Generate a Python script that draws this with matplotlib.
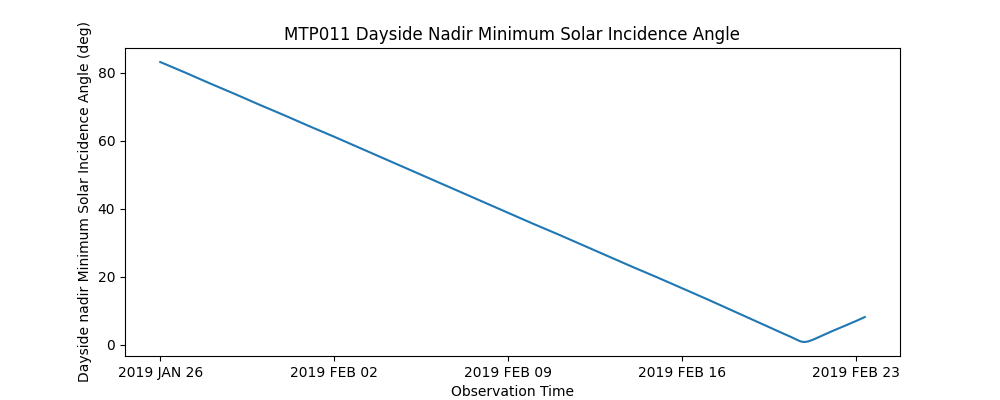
import numpy as np
import pandas as pd
import matplotlib
matplotlib.use("Agg")
import matplotlib.pyplot as plt
import matplotlib.dates as mdates
from matplotlib.ticker import FuncFormatter

# minimum solar incidence angle on the dayside nadir
start = pd.Timestamp("2019-01-26")
days_since_start = [0, 1, 2, 3, 4, 5, 6,
                    7, 8, 9, 10, 11, 12, 13,
                    14, 15, 16, 17, 18, 19, 20,
                    21, 22, 23, 24, 25, 25.4, 25.6, 25.75, 25.85, 25.95,
                    26.1, 26.3, 27, 28, 28.36]
incidence_deg = [83.2, 80.1, 76.9, 73.8, 70.6, 67.5, 64.3,
                 61.2, 58.0, 54.8, 51.6, 48.4, 45.2, 42.0,
                 38.8, 35.6, 32.5, 29.3, 26.1, 22.9, 19.8,
                 16.6, 13.4, 10.1, 6.8, 3.5, 2.2, 1.5, 1.0, 0.8, 0.75,
                 0.95, 1.5, 3.8, 6.9, 8.1]
tick_dates = ["2019-01-26", "2019-02-02", "2019-02-09", "2019-02-16", "2019-02-23"]

times = [start + pd.Timedelta(days=d) for d in days_since_start]

fig, ax = plt.subplots(figsize=(10, 4), dpi=100)
ax.plot(times, incidence_deg)

ax.set_xticks([pd.Timestamp(t) for t in tick_dates])
ax.xaxis.set_major_formatter(FuncFormatter(
    lambda v, pos: mdates.num2date(v).strftime("%Y %b %d").upper()))

ax.set_title("MTP011 Dayside Nadir Minimum Solar Incidence Angle")
ax.set_xlabel("Observation Time")
ax.set_ylabel("Dayside nadir Minimum Solar Incidence Angle (deg)")

fig.savefig("out.png")
